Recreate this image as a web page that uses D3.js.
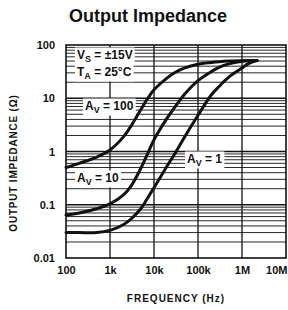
<!DOCTYPE html>
<html>
<head>
<meta charset="utf-8">
<script src="https://cdn.jsdelivr.net/npm/d3@7"></script>
<style>
  html, body { margin: 0; padding: 0; background: #fff; }
  svg { display: block; }
</style>
</head>
<body>
<svg id="chart" width="288" height="310"></svg>
<script>
// ---- data ----
const freqs = [100, 200, 500, 1e3, 2e3, 3e3, 5e3, 7e3, 1e4, 2e4, 3e4, 5e4, 1e5, 2e5, 3e5, 5e5, 1e6, 1.4e6, 2.2e6];
const zAv100 = [0.50, 0.60, 0.785, 1.07, 1.86, 3.0, 6.1, 9.6, 14.4, 24.2, 30.4, 37.2, 43.4, 46.8, 48.4, 49.8, 50.7, 51, 51];
const zAv10  = [0.064, 0.070, 0.084, 0.1035, 0.151, 0.224, 0.48, 0.87, 1.66, 4.27, 6.9, 12, 21.4, 31.6, 38, 44.2, 49.3, 50.5, 51];
const zAv1   = [0.030, 0.030, 0.030, 0.033, 0.042, 0.054, 0.084, 0.13, 0.209, 0.54, 0.92, 1.9, 4.8, 11.5, 16.6, 25, 37, 44.7, 51];
const xTickValues = [1e2, 1e3, 1e4, 1e5, 1e6, 1e7];
const xTickLabels = ["100", "1k", "10k", "100k", "1M", "10M"];
const yTickValues = [0.01, 0.1, 1, 10, 100];
const yTickLabels = ["0.01", "0.1", "1", "10", "100"];
const titleText = "Output Impedance";
const xTitle = "FREQUENCY (Hz)";
const yTitle = "OUTPUT IMPEDANCE (\u03A9)";

// ---- layout ----
const svg = d3.select("#chart");
const X0 = 66, X1 = 286, Y0 = 45, Y1 = 258;
const x = d3.scaleLog().domain([1e2, 1e7]).range([X0, X1]);
const y = d3.scaleLog().domain([0.01, 100]).range([Y1, Y0]);
const font = "'Liberation Sans', Arial, Helvetica, sans-serif";

// title
svg.append("text").attr("x", 148).attr("y", 22).attr("text-anchor", "middle")
  .attr("font-family", font).attr("font-weight", "bold").attr("font-size", 18)
  .attr("fill", "#111").text(titleText);

// grid
const grid = svg.append("g").attr("stroke", "#111").attr("fill", "none");
const minor = [];
for (let d = 0.01; d < 100; d *= 10) {
  for (let k = 2; k <= 9; k++) minor.push(+(d * k).toPrecision(3));
}
grid.selectAll("line.hmin").data(minor).join("line")
  .attr("x1", X0).attr("x2", X1)
  .attr("y1", d => y(d)).attr("y2", d => y(d)).attr("stroke-width", 0.9);
grid.selectAll("line.hmaj").data([0.1, 1, 10]).join("line")
  .attr("x1", X0).attr("x2", X1)
  .attr("y1", d => y(d)).attr("y2", d => y(d)).attr("stroke-width", 1.3);
grid.selectAll("line.v").data([1e3, 1e4, 1e5, 1e6]).join("line")
  .attr("x1", d => x(d)).attr("x2", d => x(d))
  .attr("y1", Y0).attr("y2", Y1).attr("stroke-width", 1.3);

// frame
svg.append("rect").attr("x", X0).attr("y", Y0).attr("width", X1 - X0).attr("height", Y1 - Y0)
  .attr("fill", "none").attr("stroke", "#111").attr("stroke-width", 1.6);

// annotation labels (white boxes break the grid)
const labels = [
  {x: 77, y: 59, main: "V", sub: "S", rest: " = \u00B115V"},
  {x: 77, y: 76, main: "T", sub: "A", rest: " = 25\u00B0C"},
  {x: 85, y: 110, main: "A", sub: "V", rest: " = 100"},
  {x: 77, y: 182, main: "A", sub: "V", rest: " = 10"},
  {x: 187, y: 163, main: "A", sub: "V", rest: " = 1"}
];
const boxG = svg.append("g");
const curveG = svg.append("g");
const labG = svg.append("g");
labels.forEach(l => {
  const t = labG.append("text").attr("x", l.x).attr("y", l.y)
    .attr("font-family", font).attr("font-weight", "bold").attr("font-size", 12).attr("fill", "#111");
  t.append("tspan").text(l.main);
  t.append("tspan").attr("font-size", 9).attr("dy", 3).text(l.sub);
  t.append("tspan").attr("dy", -3).text(l.rest);
  const bb = t.node().getBBox();
  boxG.append("rect").attr("x", bb.x - 2).attr("y", bb.y - 0.5)
    .attr("width", bb.width + 4).attr("height", bb.height + 1).attr("fill", "#fff");
});

// curves
const line = d3.line().x(d => x(d[0])).y(d => y(d[1])).curve(d3.curveCatmullRom.alpha(0.5));
[zAv100, zAv10, zAv1].forEach(vals => {
  curveG.append("path").datum(freqs.map((f, i) => [f, vals[i]]))
    .attr("d", line).attr("fill", "none").attr("stroke", "#111")
    .attr("stroke-width", 3).attr("stroke-linecap", "round").attr("stroke-linejoin", "round");
});

// axes
const xAxis = d3.axisBottom(x).tickValues(xTickValues).tickSize(0).tickPadding(0)
  .tickFormat((d, i) => xTickLabels[i]);
const gx = svg.append("g").attr("transform", `translate(0,${266})`).call(xAxis);
gx.select(".domain").remove();
gx.selectAll("text").attr("font-family", font).attr("font-weight", "bold")
  .attr("font-size", 11).attr("fill", "#111").attr("dy", "0.71em");
// keep the last label inside the window
gx.selectAll("text").filter((d, i) => i === xTickLabels.length - 1)
  .attr("text-anchor", "end").attr("x", 1);

const yAxis = d3.axisLeft(y).tickValues(yTickValues).tickSize(0).tickPadding(0)
  .tickFormat((d, i) => yTickLabels[i]);
const gy = svg.append("g").attr("transform", `translate(55,0)`).call(yAxis);
gy.select(".domain").remove();
gy.selectAll("text").attr("font-family", font).attr("font-weight", "bold")
  .attr("font-size", 11).attr("fill", "#111");

// axis titles
svg.append("text").attr("x", 176).attr("y", 302).attr("text-anchor", "middle")
  .attr("font-family", font).attr("font-weight", "bold").attr("font-size", 10)
  .attr("letter-spacing", 1).attr("fill", "#111").text(xTitle);
svg.append("text").attr("transform", "translate(17,163) rotate(-90)").attr("text-anchor", "middle")
  .attr("font-family", font).attr("font-weight", "bold").attr("font-size", 10)
  .attr("letter-spacing", 0.8).attr("fill", "#111").text(yTitle);
</script>
</body>
</html>
